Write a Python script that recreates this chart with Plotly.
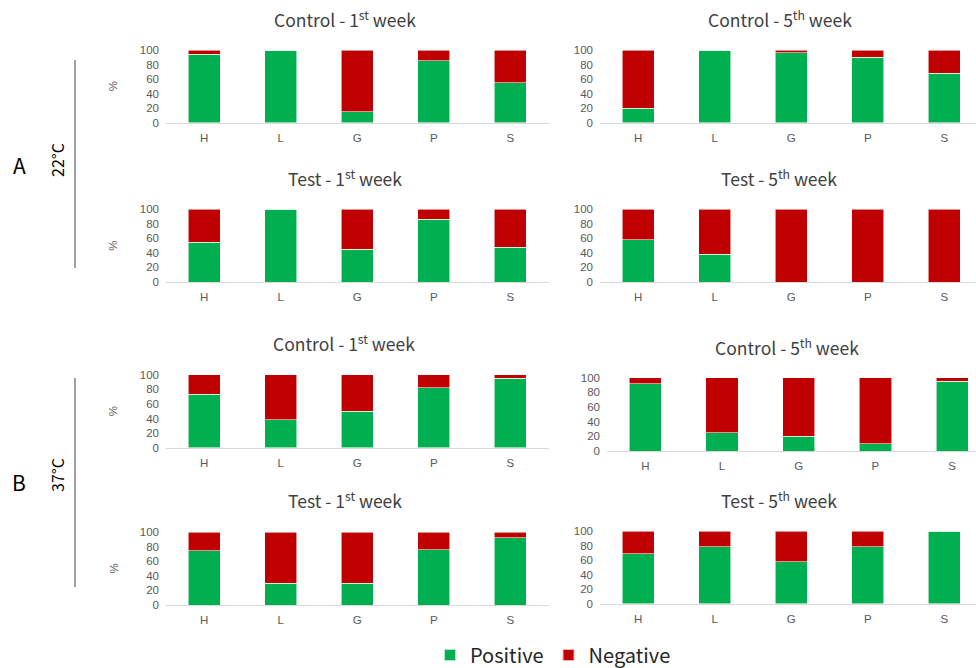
import plotly.graph_objects as go

categories = ["H", "L", "G", "P", "S"]

# Percentage of positive / negative samples per panel
pos_22_ctrl_w1 = [94, 100, 15, 85, 55]
neg_22_ctrl_w1 = [6, 0, 85, 15, 45]
pos_22_ctrl_w5 = [20, 100, 96, 90, 68]
neg_22_ctrl_w5 = [80, 0, 4, 10, 32]
pos_22_test_w1 = [55, 100, 45, 86, 48]
neg_22_test_w1 = [45, 0, 55, 14, 52]
pos_22_test_w5 = [58, 38, 0, 0, 0]
neg_22_test_w5 = [42, 62, 100, 100, 100]
pos_37_ctrl_w1 = [73, 38, 50, 82, 95]
neg_37_ctrl_w1 = [27, 62, 50, 18, 5]
pos_37_ctrl_w5 = [92, 25, 20, 10, 95]
neg_37_ctrl_w5 = [8, 75, 80, 90, 5]
pos_37_test_w1 = [74, 30, 30, 76, 92]
neg_37_test_w1 = [26, 70, 70, 24, 8]
pos_37_test_w5 = [69, 79, 58, 79, 100]
neg_37_test_w5 = [31, 21, 42, 21, 0]

titles = [
    "Control - 1<sup>st</sup> week", "Control - 5<sup>th</sup> week",
    "Test - 1<sup>st</sup> week", "Test - 5<sup>th</sup> week",
    "Control - 1<sup>st</sup> week", "Control - 5<sup>th</sup> week",
    "Test - 1<sup>st</sup> week", "Test - 5<sup>th</sup> week",
]

W, H = 976, 668
GREEN, RED = "#00B050", "#C00000"
TICK_FONT = dict(family="Liberation Sans, Arial, sans-serif", size=11.5, color="#595959")
TITLE_FONT = dict(family="Noto Sans CJK JP, sans-serif", size=17.5, color="#404040")


def px_x(x):
    return x / W


def px_y(y):
    return 1 - y / H


# panel geometry in pixels: (x0, x1, y_top(100), y_bottom(0), band width, title x, title y)
panels = [
    (166, 549, 50.0, 122.7, 76.5, 345, 19),
    (600, 976, 50.0, 122.7, 76.5, 780, 19),
    (166, 549, 209.3, 282.0, 76.5, 345, 178),
    (600, 976, 209.3, 282.0, 76.5, 779, 178),
    (166, 549, 374.7, 447.7, 76.5, 344, 343),
    (607, 976, 377.7, 451.0, 76.7, 787, 347),
    (166, 549, 532.0, 605.0, 76.5, 345, 500),
    (600, 976, 531.3, 604.0, 76.5, 779, 500),
]

series = [
    (pos_22_ctrl_w1, neg_22_ctrl_w1), (pos_22_ctrl_w5, neg_22_ctrl_w5),
    (pos_22_test_w1, neg_22_test_w1), (pos_22_test_w5, neg_22_test_w5),
    (pos_37_ctrl_w1, neg_37_ctrl_w1), (pos_37_ctrl_w5, neg_37_ctrl_w5),
    (pos_37_test_w1, neg_37_test_w1), (pos_37_test_w5, neg_37_test_w5),
]

fig = go.Figure()
annotations = []
shapes = []

for i, ((x0, x1, yt, yb, band, tx, ty), (pos, neg)) in enumerate(zip(panels, series)):
    n = i + 1
    xa = "x" if n == 1 else f"x{n}"
    ya = "y" if n == 1 else f"y{n}"
    bar_line = dict(color="rgba(255,255,255,0.7)", width=0.8)
    fig.add_trace(go.Bar(x=categories, y=pos, name="Positive", marker=dict(color=GREEN, line=bar_line),
                         xaxis=xa, yaxis=ya, showlegend=(n == 1), legendgroup="pos"))
    fig.add_trace(go.Bar(x=categories, y=neg, name="Negative", marker=dict(color=RED, line=bar_line),
                         xaxis=xa, yaxis=ya, showlegend=(n == 1), legendgroup="neg"))

    right = -0.5 + (x1 - x0) / band
    xkey = "xaxis" if n == 1 else f"xaxis{n}"
    ykey = "yaxis" if n == 1 else f"yaxis{n}"
    fig.update_layout(**{
        xkey: dict(domain=[px_x(x0), px_x(x1)], anchor=ya, range=[-0.5, right],
                   showline=True, linecolor="#D9D9D9", linewidth=1.3, showgrid=False,
                   ticks="", tickfont=TICK_FONT, ticklabelstandoff=4, fixedrange=True),
        ykey: dict(domain=[px_y(yb), px_y(yt)], anchor=xa, range=[0, 100],
                   tickvals=[0, 20, 40, 60, 80, 100], showgrid=False, zeroline=False,
                   showline=False, ticks="", tickfont=TICK_FONT, ticklabelstandoff=6,
                   fixedrange=True),
    })

    annotations.append(dict(x=px_x(tx), y=px_y(ty), xref="paper", yref="paper", text=titles[i],
                            showarrow=False, font=TITLE_FONT, xanchor="center", yanchor="middle"))
    if x0 < 300:
        annotations.append(dict(x=px_x(113), y=px_y((yt + yb) / 2), xref="paper", yref="paper",
                                text="%", textangle=-90, showarrow=False,
                                font=dict(family="Liberation Sans, Arial, sans-serif", size=11.5,
                                          color="#595959"),
                                xanchor="center", yanchor="middle"))

# group labels and temperature markers
side_font = dict(family="Noto Sans CJK JP, sans-serif", size=21, color="#000000")
temp_font = dict(family="Noto Sans CJK JP, sans-serif", size=16, color="#000000")
for label, temp, ly, ty, l0, l1 in [("A", "22°C", 165, 160, 60, 268), ("B", "37°C", 482, 475, 378, 587)]:
    annotations.append(dict(x=px_x(19), y=px_y(ly), xref="paper", yref="paper", text=label,
                            showarrow=False, font=side_font, xanchor="center", yanchor="middle"))
    annotations.append(dict(x=px_x(57), y=px_y(ty), xref="paper", yref="paper", text=temp,
                            textangle=-90, showarrow=False, font=temp_font,
                            xanchor="center", yanchor="middle"))
    shapes.append(dict(type="line", xref="paper", yref="paper", x0=px_x(75), x1=px_x(75),
                       y0=px_y(l0), y1=px_y(l1), line=dict(color="#404040", width=1)))

fig.update_layout(
    width=W, height=H,
    margin=dict(l=0, r=0, t=0, b=0, autoexpand=False),
    paper_bgcolor="white", plot_bgcolor="white",
    barmode="stack", bargap=0.58,
    annotations=annotations, shapes=shapes,
    legend=dict(orientation="h", x=px_x(553), y=px_y(655), xanchor="center", yanchor="middle",
                font=dict(family="Noto Sans CJK JP, sans-serif", size=20, color="#262626"),
                traceorder="normal", itemsizing="constant"),
)

fig.write_html("out.html")
